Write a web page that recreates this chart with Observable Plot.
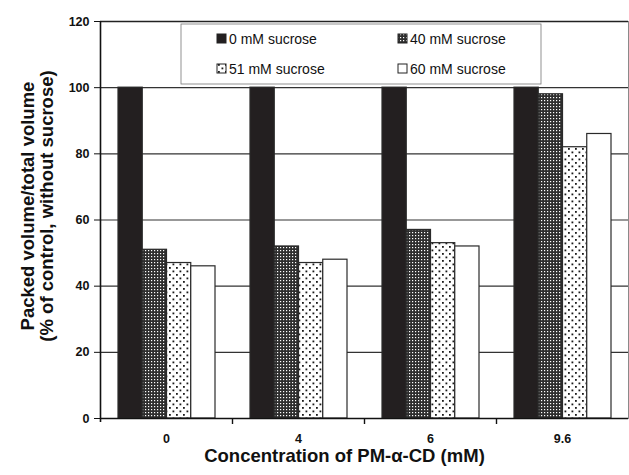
<!DOCTYPE html>
<html><head><meta charset="utf-8">
<script src="https://cdn.jsdelivr.net/npm/d3@7"></script>
<script src="https://cdn.jsdelivr.net/npm/@observablehq/plot@0.6"></script>
<style>html,body{margin:0;padding:0;background:#fff}</style>
</head><body><div id="chart"></div>
<script>
const concentrations = ["0", "4", "6", "9.6"];
const seriesNames = ["0 mM sucrose", "40 mM sucrose", "51 mM sucrose", "60 mM sucrose"];
const values0 = [100, 100, 100, 100];
const values40 = [51, 52, 57, 98];
const values51 = [47, 47, 53, 82];
const values60 = [46, 48, 52, 86];
const yTicks = [0, 20, 40, 60, 80, 100, 120];
const yTitle = "Packed volume/total volume\n(% of control, without sucrose)";
const xTitle = "Concentration of PM-α-CD (mM)";

const seriesValues = [values0, values40, values51, values60];
const data = concentrations.flatMap((c, i) => seriesNames.map((s, k) => ({conc: c, series: s, value: seriesValues[k][i]})));

const fills = ["#231f20", "url(#pat40)", "url(#pat51)", "#ffffff"];
const font = "'Liberation Sans', Arial, sans-serif";
const band = (628 - 100) / 4;
const barStart = 18, barW = 24.25;

const barMarks = seriesNames.map((s, k) => Plot.barY(data.filter(d => d.series === s), {
  x: "conc", y: "value", fill: fills[k], stroke: "#2a2a2a", strokeWidth: 1.2,
  insetLeft: barStart + barW * k, insetRight: band - barStart - barW * (k + 1)
}));

const chart = Plot.plot({
  width: 629, height: 475,
  marginLeft: 100, marginRight: 1, marginTop: 21, marginBottom: 57,
  x: {domain: concentrations, padding: 0, label: null},
  y: {domain: [0, 120], label: null},
  style: {fontFamily: font, background: "#fff", color: "#111"},
  marks: [
    Plot.frame({stroke: "#8a8a8a"}),
    Plot.ruleY(yTicks.slice(1, -1), {stroke: "#333", strokeWidth: 1.2}),
    ...barMarks,
    Plot.ruleY([120], {stroke: "#222", strokeWidth: 1.6}),
    Plot.ruleY([0], {stroke: "#111", strokeWidth: 1.6}),
    Plot.ruleX([concentrations[0]], {x: d => d, dx: -band / 2, y1: 0, y2: 120, insetTop: 4, stroke: "#111", strokeWidth: 1.6}),
    Plot.ruleX(concentrations.slice(1), {x: d => d, dx: -band / 2, y1: 0, y2: 0, insetTop: 6, stroke: "#111", strokeWidth: 1.4}),
    Plot.axisY({ticks: yTicks, tickSize: 6, tickPadding: 5, fontSize: 12.5, fontWeight: "bold", label: null, stroke: "#111"}),
    Plot.axisX({tickSize: 0, tickPadding: 16, fontSize: 12.5, fontWeight: "bold", label: null}),
    Plot.text([yTitle], {text: d => d, frameAnchor: "left", rotate: -90, dx: -63, dy: -14, textAnchor: "middle", lineAnchor: "middle", fontSize: 18.5, fontWeight: "bold", lineHeight: 1.0, fill: "#111"}),
    Plot.text([xTitle], {text: d => d, frameAnchor: "bottom", dx: -20, dy: 38, textAnchor: "middle", lineAnchor: "middle", fontSize: 18.5, fontWeight: "bold", fill: "#111"})
  ]
});

const svg = d3.select(chart);
const defs = svg.insert("defs", ":first-child");
const p40 = defs.append("pattern").attr("id", "pat40").attr("patternUnits", "userSpaceOnUse").attr("width", 3).attr("height", 3);
p40.append("rect").attr("width", 3).attr("height", 3).attr("fill", "#2e2e2e");
p40.append("rect").attr("x", 1).attr("y", 1).attr("width", 1.2).attr("height", 1.2).attr("fill", "#fff");
const p51 = defs.append("pattern").attr("id", "pat51").attr("patternUnits", "userSpaceOnUse").attr("width", 7).attr("height", 7);
p51.append("rect").attr("width", 7).attr("height", 7).attr("fill", "#fff");
p51.append("rect").attr("x", 1).attr("y", 1).attr("width", 1.8).attr("height", 1.8).attr("fill", "#1a1a1a");
p51.append("rect").attr("x", 4.5).attr("y", 4.5).attr("width", 1.8).attr("height", 1.8).attr("fill", "#1a1a1a");

// legend
const lg = svg.append("g").attr("font-family", font).attr("font-size", 14).attr("fill", "#111").attr("text-anchor", "start");
lg.append("rect").attr("x", 181).attr("y", 24).attr("width", 360).attr("height", 60).attr("fill", "#fff").attr("stroke", "#777").attr("stroke-width", 0.8);
const legendPos = [[217, 39], [398, 39], [217, 69], [398, 69]];
seriesNames.forEach((s, k) => {
  const [lx, ly] = legendPos[k];
  lg.append("rect").attr("x", lx).attr("y", ly - 5).attr("width", 9).attr("height", 9).attr("fill", fills[k]).attr("stroke", "#222").attr("stroke-width", 1);
  lg.append("text").attr("x", lx + 12).attr("y", ly).attr("dy", "0.35em").attr("text-anchor", "start").text(s);
});

document.getElementById("chart").appendChild(chart);
</script>
</body></html>
